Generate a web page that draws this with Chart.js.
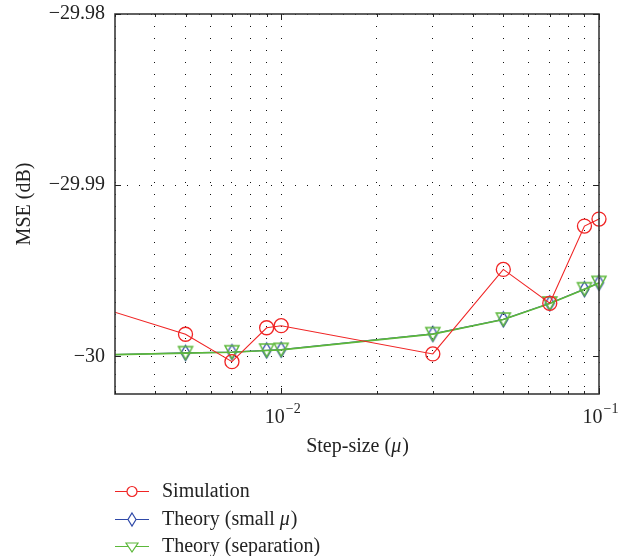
<!DOCTYPE html>
<html>
<head>
<meta charset="utf-8">
<script src="https://cdn.jsdelivr.net/npm/chart.js@4/dist/chart.umd.min.js"></script>
<style>
  html, body { margin: 0; padding: 0; background: #fff; }
  #wrap { width: 633px; height: 556px; position: relative; }
</style>
</head>
<body>
<div id="wrap"><canvas id="c" width="633" height="556"></canvas></div>
<script>
// ---- data ----
const stepSizes = [0.001, 0.005, 0.007, 0.009, 0.01, 0.03, 0.05, 0.07, 0.09, 0.1];
const simulation = [-29.99466, -29.99871, -30.00031, -29.99833, -29.99821, -29.99986, -29.99492, -29.99690, -29.99239, -29.99198];
const theorySmall = [-30.00010, -29.99980, -29.99975, -29.99965, -29.99961, -29.99869, -29.99784, -29.99690, -29.99607, -29.99570];
const theorySep = [-30.00010, -29.99981, -29.99976, -29.99966, -29.99962, -29.99870, -29.99785, -29.99691, -29.99608, -29.99571];
const seriesNames = ['Simulation', 'Theory (small \u03bc)', 'Theory (separation)'];
const xGridTicks = [0.003, 0.004, 0.005, 0.006, 0.007, 0.008, 0.009, 0.01, 0.02, 0.03, 0.04, 0.05, 0.06, 0.07, 0.08, 0.09, 0.1];
const xLabelValues = [0.01, 0.1];
const xLabelExponents = ['\u22122', '\u22121'];
const yTicks = [-30, -29.99, -29.98];
const xTitle = ['Step-size (', '\u03bc', ')'];
const yTitle = 'MSE (dB)';

const FONT = '"Liberation Serif", "Times New Roman", serif';
const FS = 20;
const RED = '#f02424', BLUE = '#2f49a8', GREEN = '#5cb83a';

function makeDiamond(color, w, h) {
  const c = document.createElement('canvas');
  c.width = w + 4; c.height = h + 4;
  const g = c.getContext('2d');
  g.strokeStyle = color; g.lineWidth = 1.3;
  const cx = c.width / 2, cy = c.height / 2;
  g.beginPath();
  g.moveTo(cx, cy - h / 2); g.lineTo(cx + w / 2, cy); g.lineTo(cx, cy + h / 2); g.lineTo(cx - w / 2, cy); g.closePath();
  g.stroke();
  return c;
}
function makeTriangle(color, w, h) {
  const c = document.createElement('canvas');
  c.width = w + 4; c.height = h + 4;
  const g = c.getContext('2d');
  g.strokeStyle = color; g.lineWidth = 1.5;
  const cx = c.width / 2, cy = c.height / 2;
  g.beginPath();
  g.moveTo(cx - w / 2, cy - h / 2); g.lineTo(cx + w / 2, cy - h / 2); g.lineTo(cx, cy + h / 2); g.closePath();
  g.stroke();
  return c;
}
const diamondBig = makeDiamond(BLUE, 9, 15);
const triangleBig = makeTriangle(GREEN, 14, 13);

const pts = arr => stepSizes.map((x, i) => ({ x: x, y: arr[i] }));

const gridDotted = {
  color: '#111', lineWidth: 1, drawTicks: false, borderDash: [1, 11]
};

const framePlugin = {
  id: 'frame',
  afterDraw(chart) {
    const ctx = chart.ctx, a = chart.chartArea;
    const xs = chart.scales.x, ys = chart.scales.y;
    ctx.save();
    // frame
    ctx.strokeStyle = '#3a3a3a'; ctx.lineWidth = 1.6;
    ctx.strokeRect(a.left, a.top, a.right - a.left, a.bottom - a.top);
    // inside ticks
    ctx.lineWidth = 1; ctx.strokeStyle = '#222';
    xGridTicks.forEach(v => {
      const px = Math.round(xs.getPixelForValue(v)) + 0.5;
      const len = xLabelValues.includes(v) ? 6 : 3;
      ctx.beginPath();
      ctx.moveTo(px, a.bottom); ctx.lineTo(px, a.bottom - len);
      ctx.moveTo(px, a.top); ctx.lineTo(px, a.top + len);
      ctx.stroke();
    });
    yTicks.forEach(v => {
      const py = Math.round(ys.getPixelForValue(v)) + 0.5;
      ctx.beginPath();
      ctx.moveTo(a.left, py); ctx.lineTo(a.left + 6, py);
      ctx.moveTo(a.right, py); ctx.lineTo(a.right - 6, py);
      ctx.stroke();
    });
    // x tick labels 10^k
    ctx.fillStyle = '#222';
    ctx.textBaseline = 'alphabetic';
    xLabelValues.forEach((v, i) => {
      const px = xs.getPixelForValue(v);
      ctx.font = FS + 'px ' + FONT;
      const wBase = ctx.measureText('10').width;
      ctx.font = '14px ' + FONT;
      const wExp = ctx.measureText(xLabelExponents[i]).width;
      const total = wBase + wExp;
      const x0 = px - total / 2 + 1;
      ctx.textAlign = 'left';
      ctx.font = FS + 'px ' + FONT;
      ctx.fillText('10', x0, a.bottom + 29);
      ctx.font = '14px ' + FONT;
      ctx.fillText(xLabelExponents[i], x0 + wBase + 1, a.bottom + 19);
    });
    // x title with italic mu
    ctx.font = FS + 'px ' + FONT;
    const w1 = ctx.measureText(xTitle[0]).width;
    ctx.font = 'italic ' + FS + 'px ' + FONT;
    const w2 = ctx.measureText(xTitle[1]).width;
    ctx.font = FS + 'px ' + FONT;
    const w3 = ctx.measureText(xTitle[2]).width;
    const cx = (a.left + a.right) / 2;
    let tx = cx - (w1 + w2 + w3) / 2;
    const ty = a.bottom + 58;
    ctx.fillText(xTitle[0], tx, ty); tx += w1;
    ctx.font = 'italic ' + FS + 'px ' + FONT;
    ctx.fillText(xTitle[1], tx, ty); tx += w2 + 1;
    ctx.font = FS + 'px ' + FONT;
    ctx.fillText(xTitle[2], tx, ty);
    // y title
    ctx.save();
    ctx.translate(25, (a.top + a.bottom) / 2);
    ctx.rotate(-Math.PI / 2);
    ctx.textAlign = 'center'; ctx.textBaseline = 'middle';
    ctx.font = FS + 'px ' + FONT;
    ctx.fillText(yTitle, 0, 0);
    ctx.restore();
    // legend
    const legY = [491, 519, 546];
    const lx0 = 115, lx1 = 149, mx = 132, textX = 162;
    chart.data.datasets.forEach((ds, i) => {
      const y = legY[i];
      ctx.strokeStyle = ds.borderColor; ctx.lineWidth = 1.2;
      ctx.beginPath(); ctx.moveTo(lx0, y + 0.5); ctx.lineTo(lx1, y + 0.5); ctx.stroke();
      ctx.fillStyle = '#fff';
      if (i === 0) {
        ctx.beginPath(); ctx.arc(mx, y + 0.5, 5, 0, Math.PI * 2); ctx.fill(); ctx.stroke();
      } else if (i === 1) {
        ctx.beginPath(); ctx.moveTo(mx, y - 6); ctx.lineTo(mx + 4, y + 0.5); ctx.lineTo(mx, y + 7); ctx.lineTo(mx - 4, y + 0.5); ctx.closePath(); ctx.fill(); ctx.stroke();
      } else {
        ctx.beginPath(); ctx.moveTo(mx - 6, y - 3); ctx.lineTo(mx + 6, y - 3); ctx.lineTo(mx, y + 6); ctx.closePath(); ctx.fill(); ctx.stroke();
      }
      ctx.fillStyle = '#222';
      ctx.font = FS + 'px ' + FONT;
      ctx.textAlign = 'left'; ctx.textBaseline = 'middle';
      if (i === 1) {
        const pre = 'Theory (small ';
        ctx.fillText(pre, textX, y + 1);
        const wp = ctx.measureText(pre).width;
        ctx.font = 'italic ' + FS + 'px ' + FONT;
        ctx.fillText('\u03bc', textX + wp, y + 1);
        const wm = ctx.measureText('\u03bc').width;
        ctx.font = FS + 'px ' + FONT;
        ctx.fillText(')', textX + wp + wm + 1, y + 1);
      } else {
        ctx.fillText(seriesNames[i], textX, y + 1);
      }
    });
    ctx.restore();
  }
};

new Chart(document.getElementById('c'), {
  type: 'line',
  data: {
    datasets: [
      {
        label: seriesNames[0], data: pts(simulation),
        borderColor: RED, backgroundColor: 'transparent', borderWidth: 1.1,
        pointStyle: 'circle', pointRadius: 7, pointBorderWidth: 1.3,
        pointBackgroundColor: 'transparent', pointBorderColor: RED,
        order: 1, clip: { left: 0, top: 10, right: 12, bottom: 10 }
      },
      {
        label: seriesNames[1], data: pts(theorySmall),
        borderColor: BLUE, backgroundColor: 'transparent', borderWidth: 1.2,
        pointStyle: diamondBig, pointRadius: 7,
        order: 3, clip: { left: 0, top: 10, right: 12, bottom: 10 }
      },
      {
        label: seriesNames[2], data: pts(theorySep),
        borderColor: GREEN, backgroundColor: 'transparent', borderWidth: 1.7,
        pointStyle: triangleBig, pointRadius: 8,
        order: 2, clip: { left: 0, top: 10, right: 12, bottom: 10 }
      }
    ]
  },
  options: {
    responsive: false,
    animation: false,
    events: [],
    layout: { padding: { left: 0, right: 34, top: 14, bottom: 100 } },
    plugins: { legend: { display: false }, tooltip: { enabled: false }, title: { display: false } },
    elements: { line: { tension: 0 } },
    scales: {
      x: {
        type: 'logarithmic', min: 0.003, max: 0.1,
        afterBuildTicks: s => { s.ticks = xGridTicks.map(v => ({ value: v })); },
        afterFit: s => { s.height = 62; },
        ticks: { display: false, autoSkip: false },
        grid: gridDotted,
        border: { display: false, dash: [1, 11] }
      },
      y: {
        type: 'linear', min: -30.0022, max: -29.98,
        afterBuildTicks: s => { s.ticks = yTicks.map(v => ({ value: v })); },
        afterFit: s => { s.width = 115; s.paddingTop = 0; },
        ticks: {
          padding: 10, color: '#222',
          font: { family: FONT, size: FS },
          callback: v => String(Math.round(v * 100) / 100).replace('-', '\u2212')
        },
        grid: gridDotted,
        border: { display: false, dash: [1, 11] }
      }
    }
  },
  plugins: [framePlugin]
});
</script>
</body>
</html>
